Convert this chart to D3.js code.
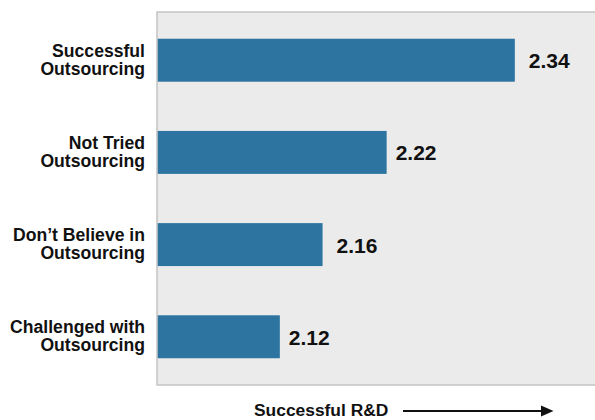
<!DOCTYPE html>
<html>
<head>
<meta charset="utf-8">
<script src="https://cdn.jsdelivr.net/npm/d3@7"></script>
<style>
  html, body { margin: 0; padding: 0; background: #ffffff; }
  svg { display: block; font-family: "Liberation Sans", Arial, Helvetica, sans-serif; }
</style>
</head>
<body>
<svg id="chart" width="595" height="420"></svg>
<script>
// Outsourcing groups (each label split into two lines) and their mean R&D success score
const categories = [
  ["Successful", "Outsourcing"],
  ["Not Tried", "Outsourcing"],
  ["Don\u2019t Believe in", "Outsourcing"],
  ["Challenged with", "Outsourcing"]
];
const values = [2.34, 2.22, 2.16, 2.12];
const axisTitle = "Successful R&D";

const W = 595, H = 420;
const plot = { left: 157, top: 12, right: 596, bottom: 385 };
// gap between each bar end and its value label
const labelGap = [14, 9, 14, 9];

const svg = d3.select("#chart");

const keys = categories.map(c => c.join(" "));

const x = d3.scaleLinear()
  .domain([2.005, 2.416])
  .range([plot.left, plot.right]);

const y = d3.scaleBand()
  .domain(keys)
  .range([plot.top, plot.bottom])
  .paddingInner(0.534)
  .paddingOuter(0.29);

// plot background
svg.append("rect")
  .attr("x", plot.left)
  .attr("y", plot.top)
  .attr("width", plot.right - plot.left)
  .attr("height", plot.bottom - plot.top)
  .attr("fill", "#ebebeb");

// frame: top, left and bottom edges
svg.append("path")
  .attr("d", `M${plot.right},${plot.top}H${plot.left}V${plot.bottom}H${plot.right}`)
  .attr("fill", "none")
  .attr("stroke", "#c4c4c4")
  .attr("stroke-width", 1.5);

const data = keys.map((k, i) => ({ key: k, lines: categories[i], value: values[i], gap: labelGap[i] }));

// bars
svg.append("g").selectAll("rect")
  .data(data)
  .join("rect")
  .attr("x", x.range()[0] + 0.75)
  .attr("y", d => y(d.key))
  .attr("width", d => x(d.value) - x.range()[0] - 0.75)
  .attr("height", y.bandwidth())
  .attr("fill", "#2d75a0");

// value labels
svg.append("g").selectAll("text")
  .data(data)
  .join("text")
  .attr("x", d => x(d.value) + d.gap)
  .attr("y", d => y(d.key) + y.bandwidth() / 2 + 8)
  .attr("font-size", 21)
  .attr("font-weight", "bold")
  .attr("fill", "#111111")
  .text(d => d.value.toFixed(2));

// category labels, one text per line
const catLines = data.flatMap(d =>
  d.lines.map((t, j) => ({ t, j, c: y(d.key) + y.bandwidth() / 2 })));

svg.append("g").selectAll("text")
  .data(catLines)
  .join("text")
  .attr("x", 145)
  .attr("y", d => d.c - 3.5 + d.j * 18)
  .attr("text-anchor", "end")
  .attr("font-size", 17.6)
  .attr("font-weight", "bold")
  .attr("fill", "#111111")
  .text(d => d.t);

// axis title with arrow
svg.append("text")
  .attr("x", 254)
  .attr("y", 416)
  .attr("font-size", 17.4)
  .attr("font-weight", "bold")
  .attr("fill", "#111111")
  .text(axisTitle);

svg.append("line")
  .attr("x1", 403).attr("x2", 543)
  .attr("y1", 411).attr("y2", 411)
  .attr("stroke", "#111111")
  .attr("stroke-width", 2);

svg.append("path")
  .attr("d", "M541,405.5L553.5,411L541,416.5Z")
  .attr("fill", "#111111");
</script>
</body>
</html>
